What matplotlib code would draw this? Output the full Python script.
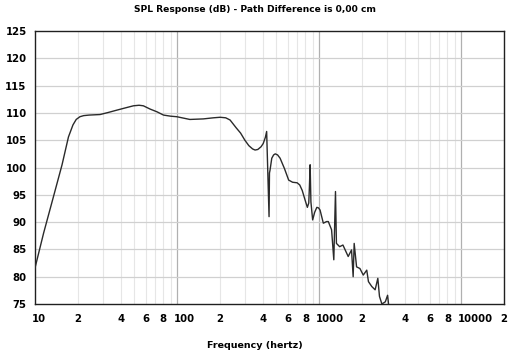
import matplotlib
matplotlib.use("Agg")
import matplotlib.pyplot as plt
import matplotlib.transforms as mtransforms
from matplotlib.ticker import FixedLocator, FixedFormatter, NullFormatter

freq = [10, 11.5, 13.5, 15.5, 17.2, 18.5, 19.5, 20.7, 22.0, 24.0, 28.7, 33.0, 37.6, 43.0, 49.3, 54.0,
        57.9, 64.6, 72.2, 80.3, 90.0, 99.6, 123, 153, 180, 201, 220, 236, 260, 280, 300, 320, 340,
        354, 370, 390, 404, 418, 427, 444, 447, 451, 464, 478, 491, 510, 531, 570, 610, 650, 700,
        730, 760, 797, 826, 845, 854, 864, 875, 900, 930, 963, 990, 1015, 1070, 1128, 1160, 1223,
        1268, 1303, 1323, 1394, 1470, 1601, 1690, 1735, 1764, 1834, 1936, 2044, 2163, 2223, 2347,
        2477, 2588, 2658, 2764, 2922, 3032, 3085]
spl = [81.6, 88.0, 94.7, 100.5, 105.6, 107.8, 108.8, 109.3, 109.5, 109.6, 109.7, 110.1, 110.5, 110.9, 111.3, 111.4,
       111.3, 110.7, 110.2, 109.6, 109.4, 109.3, 108.8, 108.9, 109.1, 109.2, 109.1, 108.7, 107.3, 106.3, 105.0, 104.0, 103.4,
       103.2, 103.3, 103.8, 104.4, 105.5, 106.6, 91.0, 99.0, 99.5, 101.7, 102.3, 102.5, 102.3, 101.7, 99.8, 97.7, 97.3, 97.2,
       96.8, 95.8, 94.0, 92.7, 93.5, 96.5, 100.5, 93.7, 90.4, 91.8, 92.7, 92.6, 92.2, 89.8, 90.1, 90.1, 88.6,
       83.1, 95.6, 86.1, 85.5, 85.8, 83.7, 84.9, 80.0, 86.1, 81.8, 81.5, 80.3, 81.2, 79.1, 78.2,
       77.6, 79.7, 76.4, 75.0, 75.4, 76.6, 74.8]

xtick_vals = [10, 20, 40, 60, 80, 100, 200, 400, 600, 800, 1000, 2000, 4000, 6000, 8000, 10000, 20000]
xtick_labels = ["10", "2", "4", "6", "8", "100", "2", "4", "6", "8", "1000", "2", "4", "6", "8", "10000", "2"]
ytick_vals = [75, 80, 85, 90, 95, 100, 105, 110, 115, 120, 125]

title = "SPL Response (dB) - Path Difference is 0,00 cm"
xlabel = "Frequency (hertz)"

fig = plt.figure(figsize=(5.12, 3.54), dpi=100)
ax = fig.add_axes([35/512, 50/354, 469/512, 273/354])
ax.set_xscale("log")
ax.set_xlim(10, 20000)
ax.set_ylim(75, 125)

minor = []
for dec in [10, 100, 1000, 10000]:
    for m in range(2, 10):
        v = dec * m
        if v <= 20000:
            minor.append(v)
for v in minor:
    ax.axvline(v, color="#e6e6e6", lw=0.8, zorder=0)
for v in [100, 1000, 10000]:
    ax.axvline(v, color="#b0b0b0", lw=0.9, zorder=0)
for v in ytick_vals[1:-1]:
    ax.axhline(v, color="#d0d0d0", lw=0.9, zorder=0)

ax.plot(freq, spl, color="#2a2a2a", lw=1.0, zorder=3, clip_on=True)

ax.xaxis.set_major_locator(FixedLocator(xtick_vals))
ax.xaxis.set_major_formatter(FixedFormatter(xtick_labels))
ax.xaxis.set_minor_locator(FixedLocator([]))
ax.xaxis.set_minor_formatter(NullFormatter())
ax.set_yticks(ytick_vals)
ax.tick_params(axis="both", length=0, labelsize=7.3, colors="black")
ax.tick_params(axis="x", pad=7.5)
ax.tick_params(axis="y", pad=6)
shift = mtransforms.ScaledTranslation(-3.5/100, 0, fig.dpi_scale_trans)
for lbl in ax.get_xticklabels():
    lbl.set_fontweight("bold")
    lbl.set_ha("left")
    lbl.set_transform(lbl.get_transform() + shift)
for lbl in ax.get_yticklabels():
    lbl.set_fontweight("bold")

for s in ax.spines.values():
    s.set_color("#202020")
    s.set_linewidth(1.0)

fig.text(255/512, 1 - 10/354, title, ha="center", va="center", fontsize=6.6, fontweight="bold")
fig.text(255/512, 1 - 345/354, xlabel, ha="center", va="center", fontsize=6.8, fontweight="bold")

fig.savefig("out.png", dpi=100)
